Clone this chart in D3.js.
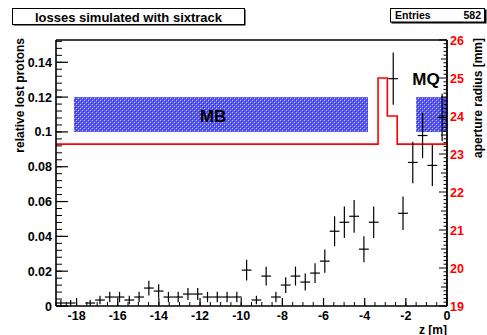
<!DOCTYPE html>
<html><head><meta charset="utf-8">
<script src="https://cdn.jsdelivr.net/npm/d3@7"></script>
<style>
html,body{margin:0;padding:0;background:#fff;}
svg{display:block;font-family:"Liberation Sans",Arial,Helvetica,sans-serif;font-weight:bold;}
</style></head>
<body>
<svg id="c" width="487" height="335"></svg>
<script>
// ---- data ----
const titleText = "losses simulated with sixtrack";
const entries = 582;
const zRange = [-19, 0];          // histogram range [m]
const nBins = 40;
// counts per bin (bin 0 = lowest z)
const counts = [1,1,0,1,2,3,3,2,3,6,5,3,3,4,4,3,3,3,3,12,2,10,3,7,10,8,11,15,25,28,30,19,28,0,76,31,48,57,47,63];
const yLeftMax = 0.1528;
const yLeftTicks = [0,0.02,0.04,0.06,0.08,0.1,0.12,0.14];
const yLeftTickLabels = ["0","0.02","0.04","0.06","0.08","0.1","0.12","0.14"];
const xTicks = [-18,-16,-14,-12,-10,-8,-6,-4,-2,0];
const yRightRange = [19, 26];
const yRightTicks = [19,20,21,22,23,24,25,26];
// aperture profile: [z, radius mm]
const apertureZ = [-19, -3.35, -3.35, -2.9, -2.9, -2.42, -2.42, 0];
const apertureR = [23.26, 23.26, 25.0, 25.0, 24.0, 24.0, 23.26, 23.26];
// magnet boxes (z from, z to, label)
const magnetNames = ["MB", "MQ"];
const magnetZ0 = [-18.13, -1.5];
const magnetZ1 = [-3.84, 0];
const magnetY = [0.1, 0.12];

// ---- layout ----
const svg = d3.select("#c");
const L = 56, R = 447, T = 40, B = 306;
const x = d3.scaleLinear().domain(zRange).range([L, R]);
const y = d3.scaleLinear().domain([0, yLeftMax]).range([B, T]);
const yr = d3.scaleLinear().domain(yRightRange).range([B, T]);

// pattern
const defs = svg.append("defs");
const pat = defs.append("pattern").attr("id","pb").attr("patternUnits","userSpaceOnUse").attr("width",4).attr("height",4);
pat.append("rect").attr("width",4).attr("height",4).attr("fill","#5a5af2");
pat.append("rect").attr("x",0).attr("y",0).attr("width",1).attr("height",1).attr("fill","#c4c4ff");
pat.append("rect").attr("x",2).attr("y",2).attr("width",1).attr("height",1).attr("fill","#c4c4ff");
pat.append("rect").attr("x",1).attr("y",1).attr("width",1).attr("height",1).attr("fill","#2a2ad8");
pat.append("rect").attr("x",3).attr("y",3).attr("width",1).attr("height",1).attr("fill","#2a2ad8");

// title box
svg.append("rect").attr("x",13.5).attr("y",9.5).attr("width",232).attr("height",16).attr("fill","#000");
svg.append("rect").attr("x",12.5).attr("y",8.5).attr("width",232).attr("height",16).attr("fill","#fff").attr("stroke","#000").attr("stroke-width",1);
svg.append("text").attr("x",128.5).attr("y",21.5).attr("text-anchor","middle").attr("font-size",13).text(titleText);

// stats box
svg.append("rect").attr("x",391.5).attr("y",9.5).attr("width",95).attr("height",14).attr("fill","#000");
svg.append("rect").attr("x",390.5).attr("y",8.5).attr("width",94).attr("height",13.5).attr("fill","#fff").attr("stroke","#000").attr("stroke-width",1);
svg.append("text").attr("x",395).attr("y",19).attr("font-size",10.5).text("Entries");
svg.append("text").attr("x",481).attr("y",19).attr("text-anchor","end").attr("font-size",10.5).text(String(entries));

// magnet boxes
const g = svg.append("g");
magnetNames.forEach((n,i)=>{
  g.append("rect").attr("x",x(magnetZ0[i])).attr("y",y(magnetY[1]))
   .attr("width",x(magnetZ1[i])-x(magnetZ0[i])).attr("height",y(magnetY[0])-y(magnetY[1]))
   .attr("fill","url(#pb)");
});
g.append("text").attr("x",213).attr("y",122).attr("text-anchor","middle").attr("font-size",17).text(magnetNames[0]);
g.append("text").attr("x",426).attr("y",85).attr("text-anchor","middle").attr("font-size",17).text(magnetNames[1]);

// aperture line
const apLine = d3.line().x(d=>x(d[0])).y(d=>yr(d[1]));
g.append("path").datum(apertureZ.map((z,i)=>[z,apertureR[i]]))
 .attr("d",apLine).attr("fill","none").attr("stroke","#ff0000").attr("stroke-width",1.6);

// data points
const bw = (zRange[1]-zRange[0])/nBins;
const pts = counts.map((c,i)=>({z0: zRange[0]+i*bw, z1: zRange[0]+(i+1)*bw, v: c/entries, e: Math.sqrt(c)/entries, c}));
const dg = g.append("g").attr("stroke","#000").attr("stroke-width",1.2);
pts.filter(p=>p.c>0).forEach(p=>{
  const xc = x((p.z0+p.z1)/2);
  dg.append("line").attr("x1",x(p.z0)).attr("x2",x(p.z1)).attr("y1",y(p.v)).attr("y2",y(p.v));
  dg.append("line").attr("x1",xc).attr("x2",xc).attr("y1",y(p.v+p.e)).attr("y2",y(Math.max(0,p.v-p.e)));
});

// frame
const ax = svg.append("g").attr("stroke","#000").attr("fill","none");
ax.append("line").attr("x1",L).attr("x2",R).attr("y1",T).attr("y2",T).attr("stroke-width",1.3);
ax.append("line").attr("x1",L).attr("x2",L).attr("y1",T).attr("y2",B).attr("stroke-width",1.6);
ax.append("line").attr("x1",L).attr("x2",R).attr("y1",B).attr("y2",B).attr("stroke-width",1.6);
ax.append("line").attr("x1",R).attr("x2",R).attr("y1",T).attr("y2",B).attr("stroke-width",1.8);

// left axis ticks
const minorL = d3.range(0, yLeftMax, 0.004);
minorL.forEach(v=>ax.append("line").attr("x1",L).attr("x2",L+6).attr("y1",y(v)).attr("y2",y(v)).attr("stroke-width",1));
yLeftTicks.forEach(v=>ax.append("line").attr("x1",L).attr("x2",L+12).attr("y1",y(v)).attr("y2",y(v)).attr("stroke-width",1.2));
yLeftTicks.forEach((v,i)=>svg.append("text").attr("x",52).attr("y",y(v)+4.5).attr("text-anchor","end").attr("font-size",12.5).text(yLeftTickLabels[i]));

// bottom axis ticks
d3.range(-19, 0.001, 0.5).forEach(v=>ax.append("line").attr("x1",x(v)).attr("x2",x(v)).attr("y1",B).attr("y2",B-4).attr("stroke-width",1));
xTicks.forEach(v=>ax.append("line").attr("x1",x(v)).attr("x2",x(v)).attr("y1",B).attr("y2",B-8).attr("stroke-width",1.2));
xTicks.forEach(v=>svg.append("text").attr("x",x(v)).attr("y",320).attr("text-anchor","middle").attr("font-size",12.5).text(String(v)));

// right axis ticks
d3.range(19, 26.001, 0.1).forEach(v=>{
  const r = Math.round(v*10);
  const len = (r%10===0)?8:((r%5===0)?6:3.5);
  ax.append("line").attr("x1",R).attr("x2",R-len).attr("y1",yr(v)).attr("y2",yr(v)).attr("stroke-width",1);
});
yRightTicks.forEach(v=>svg.append("text").attr("x",450).attr("y",yr(v)+4.5).attr("fill","#ff0000").attr("font-size",12.5).text(String(v)));

// axis titles
svg.append("text").attr("transform",`translate(24,${T-2}) rotate(-90)`).attr("text-anchor","end").attr("font-size",12).text("relative lost protons");
svg.append("text").attr("transform",`translate(482,${T-2}) rotate(-90)`).attr("text-anchor","end").attr("font-size",12).text("aperture radius [mm]");
svg.append("text").attr("x",R).attr("y",333.5).attr("text-anchor","end").attr("font-size",12).text("z [m]");
</script>
</body></html>
